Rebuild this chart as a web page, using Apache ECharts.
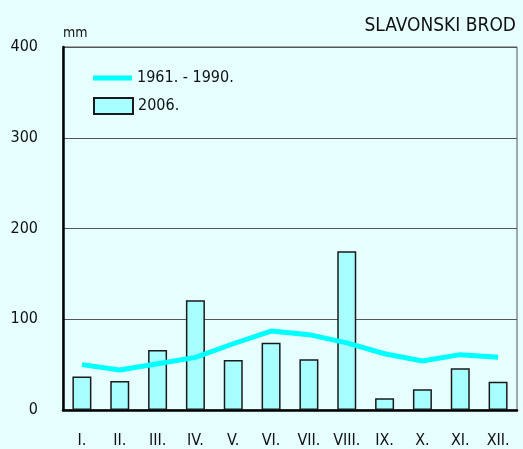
<!DOCTYPE html>
<html>
<head>
<meta charset="utf-8">
<script src="https://cdn.jsdelivr.net/npm/echarts@6/dist/echarts.min.js"></script>
<style>
  html, body { margin: 0; padding: 0; background: #e6ffff; }
  #chart { width: 523px; height: 449px; }
</style>
</head>
<body>
<div id="chart"></div>
<script>
const months = ["I.", "II.", "III.", "IV.", "V.", "VI.", "VII.", "VIII.", "IX.", "X.", "XI.", "XII."];
const normal = [50, 44, 51, 58, 73, 87, 83, 74, 62, 54, 61, 58];
const year2006 = [37, 32, 66, 121, 55, 74, 56, 175, 13, 23, 46, 31];

const font = '"DejaVu Sans Condensed", "Liberation Sans Narrow", "Liberation Sans", sans-serif';
const legendText = { fontSize: 16, color: "#111", fontFamily: font };

const chart = echarts.init(document.getElementById("chart"));
chart.setOption({
  backgroundColor: "#e6ffff",
  animation: false,
  textStyle: { fontFamily: font },
  title: {
    text: "SLAVONSKI BROD",
    right: 2,
    top: 12,
    textStyle: { fontSize: 19, fontWeight: "normal", color: "#111", fontFamily: font }
  },
  legend: [
    {
      left: 88,
      top: 65,
      itemWidth: 39,
      itemHeight: 5,
      icon: "rect",
      textStyle: legendText,
      data: ["1961. - 1990."]
    },
    {
      left: 88,
      top: 92,
      itemWidth: 39,
      itemHeight: 16,
      icon: "rect",
      textStyle: legendText,
      data: ["2006."]
    }
  ],
  grid: {
    left: 63, right: 6, top: 47, bottom: 39,
    show: true, borderColor: "#555", borderWidth: 1
  },
  xAxis: {
    type: "category",
    data: months,
    axisLine: { lineStyle: { color: "#000", width: 2.5 } },
    axisTick: { show: false },
    axisLabel: { color: "#111", fontSize: 16, margin: 23, fontFamily: font }
  },
  yAxis: {
    type: "value",
    min: 0,
    max: 400,
    interval: 100,
    name: "mm",
    nameLocation: "end",
    nameGap: 7,
    nameTextStyle: { color: "#111", fontSize: 14, align: "left", fontFamily: font },
    axisLine: { show: true, lineStyle: { color: "#000", width: 2.5 } },
    axisTick: { show: false },
    axisLabel: { color: "#111", fontSize: 16, margin: 25, fontFamily: font },
    splitLine: { lineStyle: { color: "#555", width: 1 } }
  },
  series: [
    {
      name: "2006.",
      type: "bar",
      data: year2006,
      barWidth: 19,
      itemStyle: { color: "#a8ffff", borderColor: "#1a1a1a", borderWidth: 1.5 },
      z: 2
    },
    {
      name: "1961. - 1990.",
      type: "line",
      data: normal,
      symbol: "none",
      lineStyle: { color: "#00ffff", width: 5 },
      itemStyle: { color: "#00ffff" },
      z: 3
    }
  ]
});
</script>
</body>
</html>
